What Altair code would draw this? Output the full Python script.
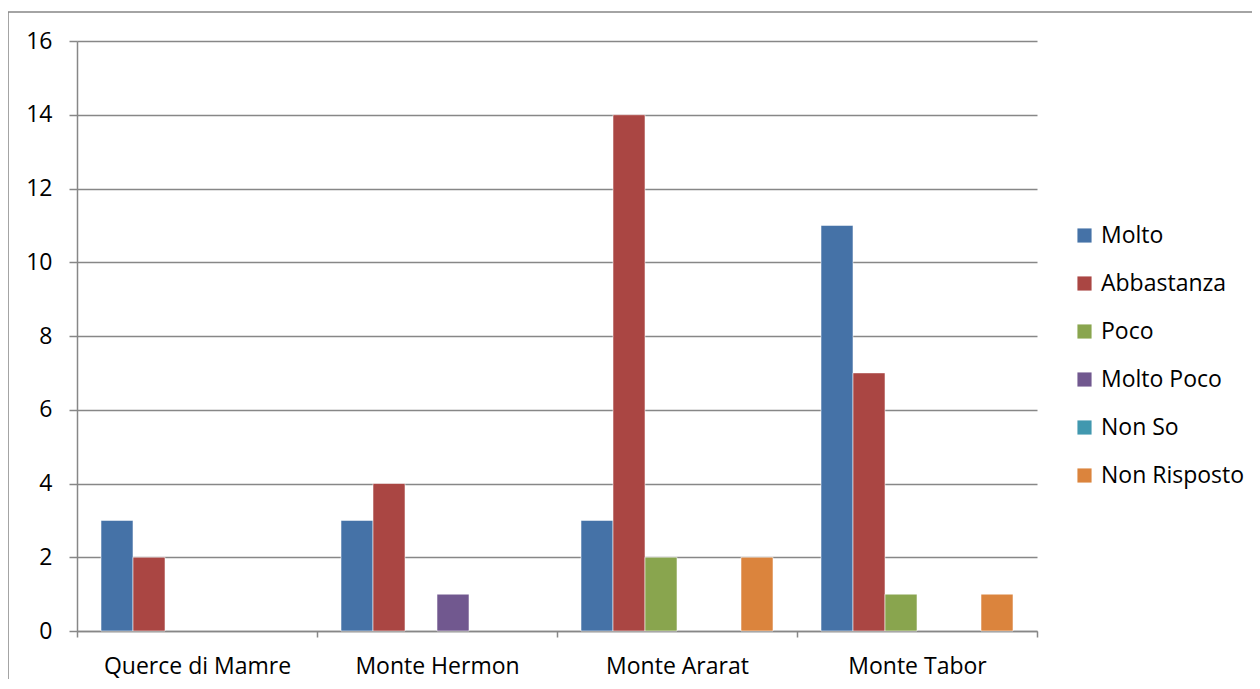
import altair as alt
import pandas as pd

categories = ["Querce di Mamre", "Monte Hermon", "Monte Ararat", "Monte Tabor"]
series = ["Molto", "Abbastanza", "Poco", "Molto Poco", "Non So", "Non Risposto"]
colors = ["#4572A7", "#AA4643", "#89A54E", "#71588F", "#4198AF", "#DB843D"]

molto = [3, 3, 3, 11]
abbastanza = [2, 4, 14, 7]
poco = [0, 0, 2, 1]
molto_poco = [0, 1, 0, 0]
non_so = [0, 0, 0, 0]
non_risposto = [0, 0, 2, 1]

values = [molto, abbastanza, poco, molto_poco, non_so, non_risposto]
rows = []
for s, vals in zip(series, values):
    for c, v in zip(categories, vals):
        rows.append({"Luogo": c, "Risposta": s, "Valore": v})
df = pd.DataFrame(rows)

FONT = "Open Sans"
GRAY = "#878787"
W, H = 960, 590

bars = alt.Chart(df).transform_filter("datum.Valore > 0").mark_bar(
    stroke="#ffffff", strokeOpacity=0.55, strokeWidth=1
).encode(
    x=alt.X("Luogo:N", sort=categories, title=None,
            scale=alt.Scale(paddingInner=0, paddingOuter=0),
            axis=alt.Axis(labelAngle=0, tickBand="extent", tickSize=6,
                          domainColor=GRAY, tickColor=GRAY, domainWidth=1.5, tickWidth=1.5,
                          labelFont=FONT, labelFontSize=23, labelColor="#000000",
                          labelPadding=18, labelLimit=400, grid=False)),
    xOffset=alt.XOffset("Risposta:N", sort=series,
                        scale=alt.Scale(domain=series, paddingInner=0, paddingOuter=0.75)),
    y=alt.Y("Valore:Q", title=None,
            scale=alt.Scale(domain=[0, 16], nice=False),
            axis=alt.Axis(values=list(range(0, 17, 2)), tickSize=8,
                          domainColor=GRAY, tickColor=GRAY, gridColor=GRAY,
                          domainWidth=1.5, tickWidth=1.5, gridWidth=1.5,
                          labelFont=FONT, labelFontSize=23, labelColor="#000000",
                          labelPadding=17)),
    color=alt.Color("Risposta:N", sort=series,
                    scale=alt.Scale(domain=series, range=colors),
                    legend=alt.Legend(title=None, orient="none", legendX=996, legendY=183,
                                      symbolType="square", symbolSize=200,
                                      symbolStrokeWidth=0, labelFont=FONT, labelFontSize=23,
                                      labelColor="#000000", rowPadding=24, labelOffset=5,
                                      labelLimit=400)),
)

border = alt.Chart(pd.DataFrame({"a": [0]})).mark_rect(
    fill=None, stroke=GRAY, strokeWidth=1.5
).encode(
    x=alt.value(-69), x2=alt.value(W + 400), y=alt.value(-29), y2=alt.value(H + 200)
)

chart = alt.layer(border, bars).properties(
    width=W, height=H,
    autosize=alt.AutoSizeParams(type="none"),
    padding={"left": 69, "top": 33, "right": 215, "bottom": 48},
).configure_view(stroke=None)

chart.save("out.html", embed_options={"renderer": "svg", "actions": False})
